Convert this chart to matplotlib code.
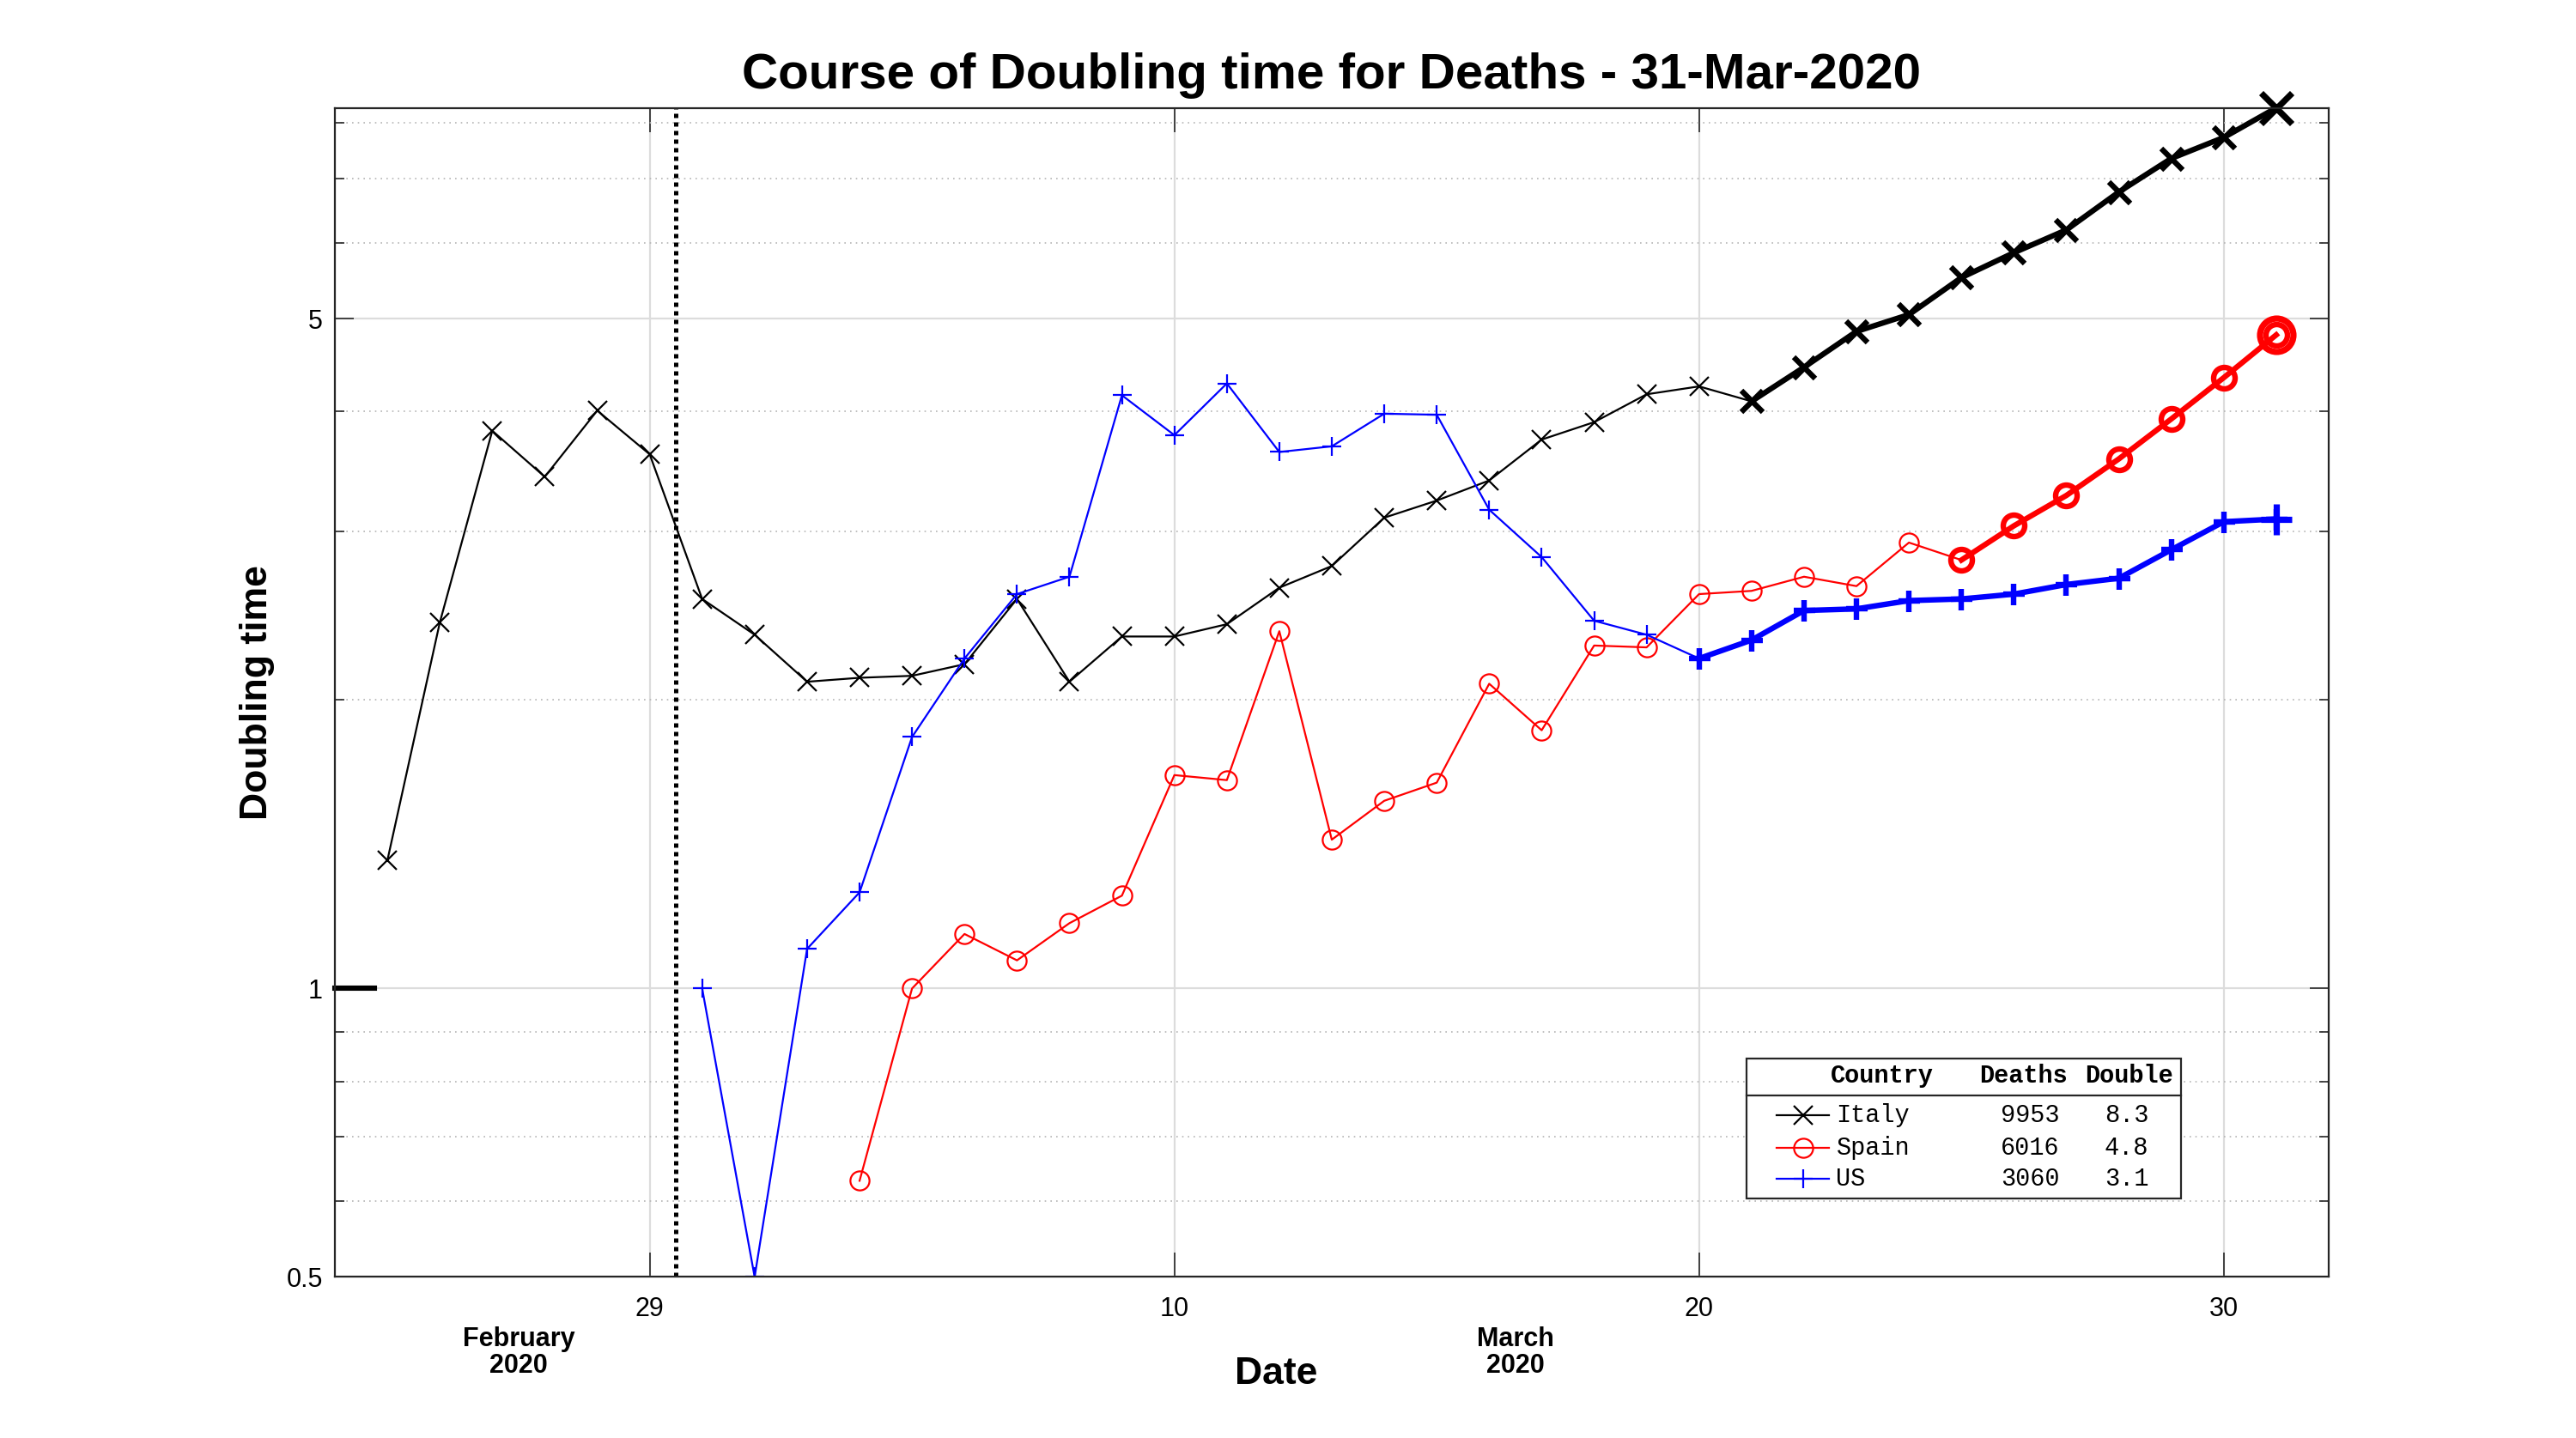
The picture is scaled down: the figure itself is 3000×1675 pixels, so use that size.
import numpy as np
import matplotlib
matplotlib.use('Agg')
import matplotlib.pyplot as plt
import matplotlib.dates as mdates
from matplotlib.ticker import FixedLocator, NullFormatter
from matplotlib.patches import Rectangle
from matplotlib.lines import Line2D

plt.rcParams['font.family'] = ['Liberation Sans', 'DejaVu Sans']

# Doubling time (days)
italy_start = '2020-02-24'
italy = [1.36, 2.41, 3.82, 3.42, 4.01, 3.61,
         2.55, 2.34, 2.09, 2.11, 2.12, 2.18, 2.55, 2.09, 2.33, 2.33,
         2.40, 2.62, 2.76, 3.10, 3.23, 3.39, 3.74, 3.90, 4.17, 4.25,
         4.10, 4.45, 4.85, 5.05, 5.52, 5.86, 6.19, 6.78, 7.35, 7.73, 8.30]

spain_start = '2020-03-04'
spain = [0.63, 1.00, 1.14, 1.07, 1.17, 1.25, 1.67, 1.65, 2.36, 1.43,
         1.57, 1.64, 2.08, 1.86, 2.28, 2.27, 2.58, 2.60, 2.69, 2.63,
         2.92, 2.80, 3.04, 3.27, 3.57, 3.93, 4.34, 4.81]

us_start = '2020-03-01'
us = [1.00, 0.50, 1.10, 1.26, 1.83, 2.21, 2.58, 2.69, 4.16, 3.78,
      4.28, 3.63, 3.68, 3.98, 3.97, 3.16, 2.82, 2.42, 2.34, 2.21,
      2.31, 2.48, 2.49, 2.54, 2.55, 2.58, 2.64, 2.68, 2.87, 3.07, 3.09]

countries = ['Italy', 'Spain', 'US']
deaths = [9953, 6016, 3060]
starts = [italy_start, spain_start, us_start]
series = [italy, spain, us]
thick_from = ['2020-03-21', '2020-03-25', '2020-03-20']
colors = ['black', 'red', 'blue']
markers = ['x', 'o', '+']

x_range = ['2020-02-23', '2020-04-01']
tick_days = ['2020-02-29', '2020-03-10', '2020-03-20', '2020-03-30']
vline_date = '2020-02-29T12:00'
y_major = [0.5, 1, 5]
y_minor = [0.6, 0.7, 0.8, 0.9, 2, 3, 4, 6, 7, 8]

fig = plt.figure(figsize=(15, 8.375), dpi=200)
ax = fig.add_axes([0.130, 0.112, 0.774, 0.813])

handles = []
for name, start, vals, tf, c, m in zip(countries, starts, series, thick_from, colors, markers):
    d = np.datetime64(start) + np.arange(len(vals)).astype('timedelta64[D]')
    v = np.array(vals)
    mfc = 'none'
    h, = ax.plot(d, v, color=c, marker=m, ms=8, mew=0.8, mfc=mfc, lw=0.8)
    handles.append(h)
    k = d >= np.datetime64(tf)
    ax.plot(d[k], v[k], color=c, marker=m, ms=9, mew=2.3, mfc=mfc, lw=2.3)
    if m == 'o':
        ax.plot(d[-1:], v[-1:], color=c, marker=m, ms=14, mew=2.6, mfc=mfc,
                ls='none', clip_on=False)
    else:
        ax.plot(d[-1:], v[-1:], color=c, marker=m, ms=13, mew=2.6, ls='none',
                clip_on=False)

ax.axvline(np.datetime64(vline_date), color='black', ls=(0, (1, 1)), lw=1.8, zorder=1)

ax.set_yscale('log')
ax.set_xlim(np.datetime64(x_range[0]), np.datetime64(x_range[1]))
ax.set_ylim(0.5, max(italy))
ax.yaxis.set_major_locator(FixedLocator(y_major))
ax.set_yticklabels(['0.5', '1', '5'])
ax.yaxis.set_minor_locator(FixedLocator(y_minor))
ax.yaxis.set_minor_formatter(NullFormatter())
ax.set_xticks([np.datetime64(t) for t in tick_days])
ax.xaxis.set_major_formatter(mdates.DateFormatter('%-d'))

ax.grid(True, which='major', color='#dcdcdc', lw=0.8, ls='-')
ax.grid(True, which='minor', axis='y', color='#b5b5b5', lw=0.6, ls=(0, (1, 3)))
ax.set_axisbelow(True)

ax.tick_params(which='both', direction='in', top=True, right=True,
               labelsize=11, color='#262626', width=0.6)
ax.tick_params(axis='x', which='major', length=10, pad=8)
ax.tick_params(axis='y', which='major', length=8, pad=5)
ax.tick_params(axis='y', which='minor', length=4)
for s in ax.spines.values():
    s.set_color('#262626')
    s.set_linewidth(0.8)

# heavy mark at 1 on the left edge
ax.plot([0, 0.02], [1, 1], color='black', lw=2.2, transform=ax.get_yaxis_transform(),
        clip_on=False)

ax.set_title('Course of Doubling time for Deaths - 31-Mar-2020',
             fontsize=21, fontweight='bold', pad=8)
ax.set_ylabel('Doubling time', fontsize=16, fontweight='bold')
ax.yaxis.set_label_coords(-0.03, 0.5)
ax.set_xlabel('Date', fontsize=16, fontweight='bold')
ax.xaxis.set_label_coords(0.472, -0.068)

# month labels under the middle of each visible month
x0, x1 = ax.get_xlim()
mar1 = mdates.date2num(np.datetime64('2020-03-01'))
for mid, lab in [((x0 + mar1) / 2, 'February\n2020'), ((mar1 + x1) / 2, 'March\n2020')]:
    ax.text(mid, -0.065, lab, transform=ax.get_xaxis_transform(), ha='center',
            va='center', fontsize=11, fontweight='bold', linespacing=1.05)

# table legend
mono = ['Liberation Mono', 'DejaVu Sans Mono']
ax.add_patch(Rectangle((0.708, 0.067), 0.218, 0.120, transform=ax.transAxes,
                       facecolor='white', edgecolor='#262626', lw=0.8, zorder=5))
ax.plot([0.708, 0.926], [0.155, 0.155], transform=ax.transAxes, color='#262626',
        lw=0.8, zorder=6)
hy = 0.172
ax.text(0.8016, hy, 'Country', transform=ax.transAxes, ha='right', va='center',
        family=mono, fontweight='bold', fontsize=10.3, zorder=6)
ax.text(0.869, hy, 'Deaths', transform=ax.transAxes, ha='right', va='center',
        family=mono, fontweight='bold', fontsize=10.3, zorder=6)
ax.text(0.922, hy, 'Double', transform=ax.transAxes, ha='right', va='center',
        family=mono, fontweight='bold', fontsize=10.3, zorder=6)
rows_y = [0.138, 0.1105, 0.0837]
for ry, name, dn, vals, c, m in zip(rows_y, countries, deaths, series, colors, markers):
    ax.add_line(Line2D([0.7232, 0.7495], [ry, ry], transform=ax.transAxes, color=c,
                       lw=0.8, zorder=6))
    ax.add_line(Line2D([0.7363], [ry], transform=ax.transAxes, color=c, marker=m,
                       ms=8, mew=0.8, mfc='none', zorder=6))
    ax.text(0.753, ry, name, transform=ax.transAxes, ha='left', va='center',
            family=mono, fontsize=10.3, zorder=6)
    ax.text(0.865, ry, str(dn), transform=ax.transAxes, ha='right', va='center',
            family=mono, fontsize=10.3, zorder=6)
    ax.text(0.9096, ry, f'{vals[-1]:.1f}', transform=ax.transAxes, ha='right',
            va='center', family=mono, fontsize=10.3, zorder=6)

fig.savefig('out.png', dpi=200)
